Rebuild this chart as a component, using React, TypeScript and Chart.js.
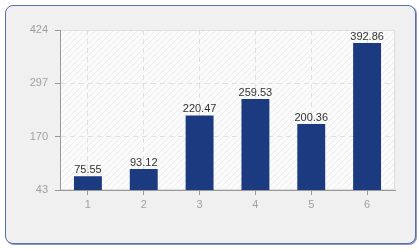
import React, { useEffect, useRef } from "react";
import { Chart, registerables } from "chart.js";

Chart.register(...registerables);

const categories: string[] = ["1", "2", "3", "4", "5", "6"];
const values: number[] = [75.55, 93.12, 220.47, 259.53, 200.36, 392.86];
const valueLabels: string[] = ["75.55", "93.12", "220.47", "259.53", "200.36", "392.86"];
const yTicks: number[] = [43, 170, 297, 424];

export default function App() {
  const canvasRef = useRef<HTMLCanvasElement | null>(null);

  useEffect(() => {
    const canvas = canvasRef.current;
    if (!canvas) return;

    // hatch pattern for the plot area
    const pc = document.createElement("canvas");
    pc.width = 6;
    pc.height = 6;
    const pctx = pc.getContext("2d")!;
    pctx.fillStyle = "#fbfbfb";
    pctx.fillRect(0, 0, 6, 6);
    pctx.strokeStyle = "#ececec";
    pctx.lineWidth = 1;
    pctx.beginPath();
    pctx.moveTo(0, 6);
    pctx.lineTo(6, 0);
    pctx.moveTo(-1, 1);
    pctx.lineTo(1, -1);
    pctx.moveTo(5, 7);
    pctx.lineTo(7, 5);
    pctx.stroke();

    const bgPlugin = {
      id: "plotBg",
      beforeDraw(chart: any) {
        const { ctx, chartArea } = chart;
        const pattern = ctx.createPattern(pc, "repeat");
        ctx.save();
        ctx.fillStyle = pattern || "#fbfbfb";
        ctx.fillRect(chartArea.left, chartArea.top, chartArea.right - chartArea.left, chartArea.bottom - chartArea.top);
        ctx.strokeStyle = "#dddddd";
        ctx.lineWidth = 1;
        ctx.strokeRect(chartArea.left + 0.5, chartArea.top + 0.5, chartArea.right - chartArea.left - 1, chartArea.bottom - chartArea.top - 1);
        ctx.restore();
      },
    };

    const labelPlugin = {
      id: "valueLabels",
      afterDatasetsDraw(chart: any) {
        const { ctx } = chart;
        const meta = chart.getDatasetMeta(0);
        ctx.save();
        ctx.font = "11px 'Liberation Sans', Arial, sans-serif";
        ctx.fillStyle = "#333333";
        ctx.textAlign = "center";
        ctx.textBaseline = "alphabetic";
        meta.data.forEach((bar: any, i: number) => {
          ctx.fillText(valueLabels[i], bar.x, bar.y - 3);
        });
        ctx.restore();
      },
    };

    const chart = new Chart(canvas, {
      type: "bar",
      data: {
        labels: categories,
        datasets: [
          {
            data: values,
            backgroundColor: "#1b3a80",
            borderWidth: 0,
            barPercentage: 1,
            categoryPercentage: 0.5,
          },
        ],
      },
      options: {
        animation: false,
        responsive: true,
        maintainAspectRatio: false,
        layout: { padding: { top: 30, right: 25, bottom: 40, left: 0 } },
        plugins: {
          legend: { display: false },
          tooltip: { enabled: false },
        },
        font: { family: "'Liberation Sans', Arial, sans-serif", size: 11 },
        scales: {
          x: {
            grid: {
              offset: false,
              color: "#e0e0e0",
              tickColor: "#999999",
              tickLength: 5,
              tickBorderDash: [],
            },
            border: { color: "#999999", width: 1, dash: [5, 4] },
            ticks: {
              color: "#a0a0a0",
              padding: 3,
              font: { family: "'Liberation Sans', Arial, sans-serif", size: 11 },
            },
            afterFit(scale: any) {
              scale.height = 20;
            },
          },
          y: {
            min: 43,
            max: 424,
            grid: {
              color: "#e0e0e0",
              tickColor: "#999999",
              tickLength: 5,
              tickBorderDash: [],
            },
            border: { color: "#999999", width: 1, dash: [5, 4] },
            ticks: {
              color: "#a0a0a0",
              padding: 7,
              font: { family: "'Liberation Sans', Arial, sans-serif", size: 11 },
            },
            afterBuildTicks(scale: any) {
              scale.ticks = yTicks.map((v) => ({ value: v }));
            },
            afterFit(scale: any) {
              scale.width = 60;
            },
          },
        },
      },
      plugins: [bgPlugin, labelPlugin],
    } as any);

    return () => chart.destroy();
  }, []);

  return (
    <div style={{ position: "fixed", left: 0, top: 0, width: 420, height: 250 }}>
      <div
        style={{
          position: "absolute",
          left: 5,
          top: 5,
          width: 411,
          height: 239,
          boxSizing: "border-box",
          border: "1px solid #5a6ea8",
          borderRadius: 8,
          background: "#f0f0f0",
          boxShadow: "1px 1px 0 #8a9acb",
        }}
      />
      <div style={{ position: "absolute", left: 0, top: 0, width: 420, height: 250 }}>
        <canvas ref={canvasRef} />
      </div>
    </div>
  );
}
